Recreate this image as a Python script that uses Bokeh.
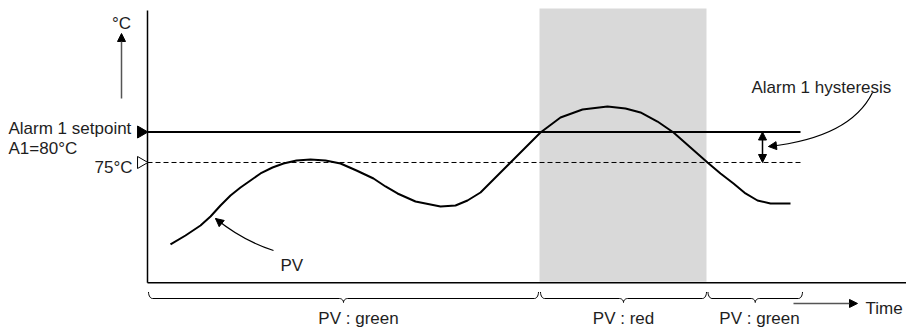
import numpy as np
from bokeh.plotting import figure
from bokeh.models import Arrow, NormalHead
from bokeh.core.properties import value
from bokeh.embed import file_html
from bokeh.resources import INLINE

# ---------------- data (time in arbitrary units, temperature in degC) ----------------
pv_time = [2.3, 3.8, 5.3, 6.3, 7.3, 8.3, 9.3, 10.3, 11.3, 12.5, 13.6, 14.9, 16.3, 17.8,
           19.3, 20.9, 22.6, 23.8, 25.0, 26.8, 29.3, 30.8, 32.0, 33.3, 34.3, 35.3, 36.3,
           37.8, 39.3, 41.3, 43.5, 46.0, 47.8, 49.3, 51.0, 52.6, 54.3, 56.0, 57.3, 58.6,
           59.8, 61.0, 62.3, 64.3]
pv_temp = [61.56, 63.03, 64.67, 66.15, 67.95, 69.59, 70.90, 72.05, 73.20, 74.18, 74.84,
           75.33, 75.49, 75.33, 74.84, 73.69, 72.38, 71.07, 69.92, 68.61, 67.79, 67.95,
           68.77, 70.08, 71.72, 73.36, 75.00, 77.46, 79.92, 82.38, 83.69, 84.18, 83.85,
           83.20, 81.72, 79.92, 77.46, 75.00, 73.20, 71.56, 69.92, 68.77, 68.28, 68.28]

setpoint = 80.0          # Alarm 1 setpoint A1
hyst_low = 75.0          # setpoint - hysteresis
line_end = 65.3          # end of setpoint / hysteresis lines
alarm_on, alarm_off = 39.2, 55.9   # red (alarm) period
phase_starts = [0.1, 39.3, 56.05]
phase_ends = [39.1, 55.9, 65.5]
phase_labels = ["PV : green", "PV : red", "PV : green"]
phase_label_x = [21.1, 47.6, 61.2]

# ---------------- layout constants ----------------
x_lo, x_hi = -14.7, 75.9
y_lo, y_hi = 47.62, 101.56
axis_floor, axis_top = 55.3, 99.9
FONT = value("Liberation Sans")
FS = "17px"
TXT = "#1e1e1e"

p = figure(width=906, height=329, x_range=(x_lo, x_hi), y_range=(y_lo, y_hi),
           output_backend="svg", toolbar_location=None, min_border=0)
p.axis.visible = False
p.grid.visible = False
p.outline_line_color = None
p.background_fill_color = "white"

# alarm band
p.quad(left=[alarm_on], right=[alarm_off], bottom=[axis_floor + 0.15], top=[100.25],
       fill_color="#d9d9d9", line_color=None)

# axes
p.segment(x0=[0, 0], y0=[axis_floor, axis_floor], x1=[0, x_hi], y1=[axis_top, axis_floor],
          line_color="black", line_width=1.5)

# setpoint and hysteresis lines
p.segment(x0=[0], y0=[setpoint], x1=[line_end], y1=[setpoint], line_color="black", line_width=2)
p.segment(x0=[0], y0=[hyst_low], x1=[line_end], y1=[hyst_low], line_color="black",
          line_width=1, line_dash="5 3")

# markers on the y axis
p.scatter(x=[-0.65], y=[setpoint], marker="triangle", size=12, angle=-np.pi / 2,
          fill_color="black", line_color="black")
p.scatter(x=[-0.65], y=[hyst_low], marker="triangle", size=12, angle=-np.pi / 2,
          fill_color="white", line_color="black", line_width=1)

# PV curve
p.line(pv_time, pv_temp, line_color="black", line_width=2)

# hysteresis double arrow
p.add_layout(Arrow(x_start=61.5, y_start=hyst_low, x_end=61.5, y_end=setpoint,
                   start=NormalHead(size=8, fill_color="black", line_color="black"),
                   end=NormalHead(size=8, fill_color="black", line_color="black"),
                   line_color="black", line_width=1.5))

def curved_arrow(x0, y0, cx, cy, x1, y1):
    p.quadratic(x0=[x0], y0=[y0], x1=[x1], y1=[y1], cx=[cx], cy=[cy],
                line_color="black", line_width=1.2)
    f = 0.05
    p.add_layout(Arrow(x_start=x1 + f * (cx - x1), y_start=y1 + f * (cy - y1),
                       x_end=x1, y_end=y1, line_alpha=0,
                       end=NormalHead(size=8, fill_color="black", line_color="black")))

curved_arrow(12.6, 60.57, 9.5, 62.21, 6.8, 65.82)       # PV
curved_arrow(72.5, 86.48, 70.3, 79.10, 62.1, 77.62)     # hysteresis

# degC up arrow and time arrow
p.add_layout(Arrow(x_start=-2.6, y_start=85.49, x_end=-2.6, y_end=96.15,
                   line_color="#555555", line_width=1.5,
                   end=NormalHead(size=8, fill_color="black", line_color="black")))
p.add_layout(Arrow(x_start=64.6, y_start=51.89, x_end=71.0, y_end=51.89,
                   line_color="#555555", line_width=1.5,
                   end=NormalHead(size=8, fill_color="black", line_color="black")))

# curly braces under the time axis
def brace(x0, x1, yt, ym, yp, r=0.4):
    phi = np.linspace(0, np.pi / 2, 8)
    rev = phi[::-1]
    xc = 0.5 * (x0 + x1)
    xs = np.concatenate([x0 + r - r * np.cos(phi),
                         xc - r + r * np.sin(phi),
                         xc + r - r * np.sin(rev),
                         x1 - r + r * np.cos(rev)])
    ys = np.concatenate([yt - (yt - ym) * np.sin(phi),
                         ym - (ym - yp) * (1 - np.cos(phi)),
                         ym - (ym - yp) * (1 - np.cos(rev)),
                         yt - (yt - ym) * np.sin(rev)])
    return list(xs), list(ys)

bx, by = [], []
for a, b in zip(phase_starts, phase_ends):
    xs, ys = brace(a, b, 53.77, 52.70, 52.05)
    bx.append(xs); by.append(ys)
p.multi_line(bx, by, line_color="black", line_width=1)

# texts
p.text(x=phase_label_x, y=[49.45] * 3, text=phase_labels, text_font=FONT,
       text_font_size=FS, text_align="center", text_baseline="alphabetic", text_color=TXT)
p.text(x=[-13.9, -13.9], y=[80.57, 77.30], text=["Alarm 1 setpoint", "A1=80°C"],
       text_font=FONT, text_font_size=FS, text_align="left", text_baseline="alphabetic",
       text_color=TXT)
p.text(x=[-1.5], y=[74.18], text=["75°C"], text_font=FONT, text_font_size=FS,
       text_align="right", text_baseline="alphabetic", text_color=TXT)
p.text(x=[-2.6], y=[97.79], text=["°C"], text_font=FONT, text_font_size=FS,
       text_align="center", text_baseline="alphabetic", text_color=TXT)
p.text(x=[13.3], y=[58.11], text=["PV"], text_font=FONT, text_font_size=FS,
       text_align="left", text_baseline="alphabetic", text_color=TXT)
p.text(x=[60.4], y=[87.30], text=["Alarm 1 hysteresis"], text_font=FONT, text_font_size=FS,
       text_align="left", text_baseline="alphabetic", text_color=TXT)
p.text(x=[71.8], y=[51.07], text=["Time"], text_font=FONT, text_font_size=FS,
       text_align="left", text_baseline="alphabetic", text_color=TXT)

open("out.html", "w").write(file_html(p, INLINE))
